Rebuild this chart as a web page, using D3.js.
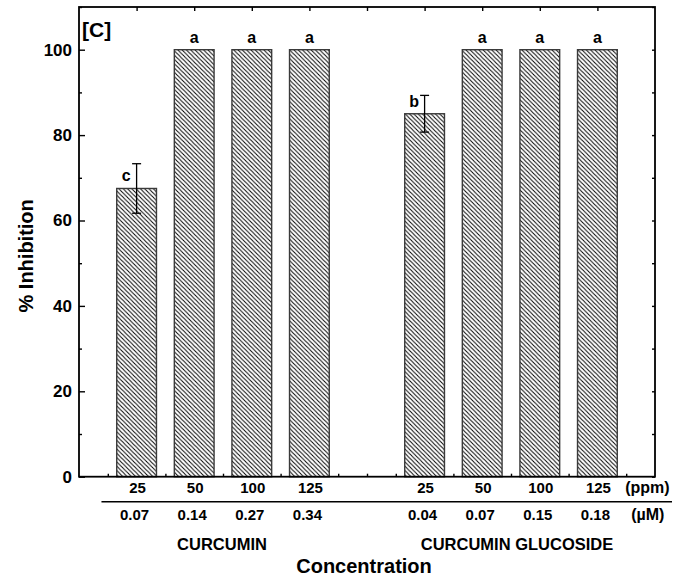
<!DOCTYPE html>
<html>
<head>
<meta charset="utf-8">
<script src="https://cdn.jsdelivr.net/npm/d3@7"></script>
<style>
  html, body { margin: 0; padding: 0; background: #fff; }
  svg { display: block; font-family: "Liberation Sans", Arial, sans-serif; font-weight: bold; }
</style>
</head>
<body>
<script>
// Inhibition (%) at each concentration, two compounds
const groups = ["CURCUMIN", "CURCUMIN GLUCOSIDE"];
const ppmLabels = ["25", "50", "100", "125"];
const curcuminMicroMolar = ["0.07", "0.14", "0.27", "0.34"];
const glucosideMicroMolar = ["0.04", "0.07", "0.15", "0.18"];
const curcuminInhibition = [67.5, 100, 100, 100];
const curcuminError = [5.8, 0, 0, 0];
const glucosideInhibition = [85.0, 100, 100, 100];
const glucosideError = [4.3, 0, 0, 0];
const curcuminLetters = ["c", "a", "a", "a"];
const glucosideLetters = ["b", "a", "a", "a"];
const yTicks = [0, 20, 40, 60, 80, 100];
const yMinorTicks = [10, 30, 50, 70, 90, 110];

const W = 675, H = 584;
const margin = { left: 79, right: 20, top: 7, bottom: 107.3 };
const innerW = W - margin.left - margin.right;
const innerH = H - margin.top - margin.bottom;

// slot positions: group g, bar i -> g*5 + i + 1 on a 0..10 axis
const rows = [];
groups.forEach((g, gi) => {
  const vals = gi === 0 ? curcuminInhibition : glucosideInhibition;
  const errs = gi === 0 ? curcuminError : glucosideError;
  const lets = gi === 0 ? curcuminLetters : glucosideLetters;
  const um = gi === 0 ? curcuminMicroMolar : glucosideMicroMolar;
  vals.forEach((v, i) => rows.push({
    group: gi, slot: gi * 5 + i + 1, value: v, err: errs[i],
    letter: lets[i], ppm: ppmLabels[i], um: um[i]
  }));
});

const x = d3.scaleLinear().domain([0, 10]).range([0, innerW]);
const y = d3.scaleLinear().domain([0, 110]).range([innerH, 0]);
const barW = x(0.69) - x(0);

const svg = d3.select("body").append("svg").attr("width", W).attr("height", H);

const defs = svg.append("defs");
const pat = defs.append("pattern")
  .attr("id", "hatch").attr("patternUnits", "userSpaceOnUse")
  .attr("width", 4.3).attr("height", 4.3);
pat.append("path")
  .attr("d", "M-1,-1 L5.3,5.3 M3.3,-1 L5.3,1 M-1,3.3 L1,5.3")
  .attr("stroke", "#000").attr("stroke-width", 1).attr("fill", "none");

const g = svg.append("g").attr("transform", `translate(${margin.left},${margin.top})`);

// bars
g.selectAll("rect.bar").data(rows).join("rect")
  .attr("class", "bar")
  .attr("x", d => x(d.slot) - barW / 2)
  .attr("y", d => y(d.value))
  .attr("width", barW)
  .attr("height", d => y(0) - y(d.value))
  .attr("fill", "url(#hatch)")
  .attr("stroke", "#3a3a3a").attr("stroke-width", 1.4);

// error bars
const withErr = rows.filter(d => d.err > 0);
const ebar = g.selectAll("g.err").data(withErr).join("g").attr("class", "err")
  .attr("stroke", "#000").attr("stroke-width", 1.3);
ebar.append("line").attr("x1", d => x(d.slot)).attr("x2", d => x(d.slot))
  .attr("y1", d => y(d.value + d.err)).attr("y2", d => y(d.value - d.err));
ebar.append("line").attr("x1", d => x(d.slot) - 4.5).attr("x2", d => x(d.slot) + 4.5)
  .attr("y1", d => y(d.value + d.err)).attr("y2", d => y(d.value + d.err));
ebar.append("line").attr("x1", d => x(d.slot) - 4.5).attr("x2", d => x(d.slot) + 4.5)
  .attr("y1", d => y(d.value - d.err)).attr("y2", d => y(d.value - d.err));

// significance letters
g.selectAll("text.letter").data(rows).join("text")
  .attr("class", "letter")
  .attr("x", d => d.err > 0 ? x(d.slot) - 10.5 : x(d.slot))
  .attr("y", d => y(d.value) - 7)
  .attr("text-anchor", "middle")
  .attr("font-size", 16)
  .text(d => d.letter);

// axes
const styleAxis = sel => {
  sel.select(".domain").remove();
  sel.selectAll(".tick line").attr("stroke", "#000").attr("stroke-width", 1.4);
  sel.selectAll("text").attr("font-family", "Liberation Sans, Arial, sans-serif")
    .attr("font-weight", "bold").attr("fill", "#000");
};

g.append("g").call(d3.axisLeft(y).tickValues(yTicks).tickSize(-6).tickPadding(7))
  .call(styleAxis).selectAll("text").attr("font-size", 17);
g.append("g").call(d3.axisLeft(y).tickValues(yMinorTicks).tickSize(-3).tickFormat(""))
  .call(styleAxis);
g.append("g").attr("transform", `translate(${innerW},0)`)
  .call(d3.axisRight(y).tickValues(yTicks.concat(yMinorTicks)).tickSize(-3).tickFormat(""))
  .call(styleAxis);
g.append("g")
  .call(d3.axisTop(x).tickValues(d3.range(1, 10)).tickSize(-4).tickFormat(""))
  .call(styleAxis);
g.append("g").attr("transform", `translate(0,${innerH})`)
  .call(d3.axisBottom(x).tickValues(d3.range(0.5, 10, 1).concat([5])).tickSize(-3).tickFormat(""))
  .call(styleAxis);

// frame
g.append("rect").attr("x", 0).attr("y", 0).attr("width", innerW).attr("height", innerH)
  .attr("fill", "none").attr("stroke", "#000").attr("stroke-width", 1.8);

// concentration labels below the axis
g.selectAll("text.ppm").data(rows).join("text")
  .attr("class", "ppm")
  .attr("x", d => x(d.slot) + 1)
  .attr("y", innerH + 16.5)
  .attr("text-anchor", "middle").attr("font-size", 15)
  .text(d => d.ppm);

g.append("line")
  .attr("x1", x(0.39)).attr("x2", W - margin.left - 3)
  .attr("y1", innerH + 25).attr("y2", innerH + 25)
  .attr("stroke", "#000").attr("stroke-width", 1.5);

g.selectAll("text.um").data(rows).join("text")
  .attr("class", "um")
  .attr("x", d => x(d.slot) - 2)
  .attr("y", innerH + 43.5)
  .attr("text-anchor", "middle").attr("font-size", 15)
  .text(d => d.um);

g.append("text").attr("x", x(9.5) - 1).attr("y", innerH + 16.5)
  .attr("font-size", 16).text("(ppm)");
g.append("text").attr("x", x(9.5) + 5).attr("y", innerH + 43.5)
  .attr("font-size", 16).text("(µM)");

groups.forEach((name, gi) => {
  g.append("text")
    .attr("x", x(gi * 5 + 2.5) + (gi === 0 ? -1 : 6))
    .attr("y", innerH + 73.5)
    .attr("text-anchor", "middle").attr("font-size", 16.5)
    .text(name);
});

// axis titles and panel tag
g.append("text").attr("x", innerW / 2 - 3).attr("y", innerH + 96.5)
  .attr("text-anchor", "middle").attr("font-size", 20).text("Concentration");
svg.append("text")
  .attr("transform", `translate(33,${margin.top + innerH / 2 + 14}) rotate(-90)`)
  .attr("text-anchor", "middle").attr("font-size", 20).text("% Inhibition");
g.append("text").attr("x", 3).attr("y", 30).attr("font-size", 21).text("[C]");
</script>
</body>
</html>
